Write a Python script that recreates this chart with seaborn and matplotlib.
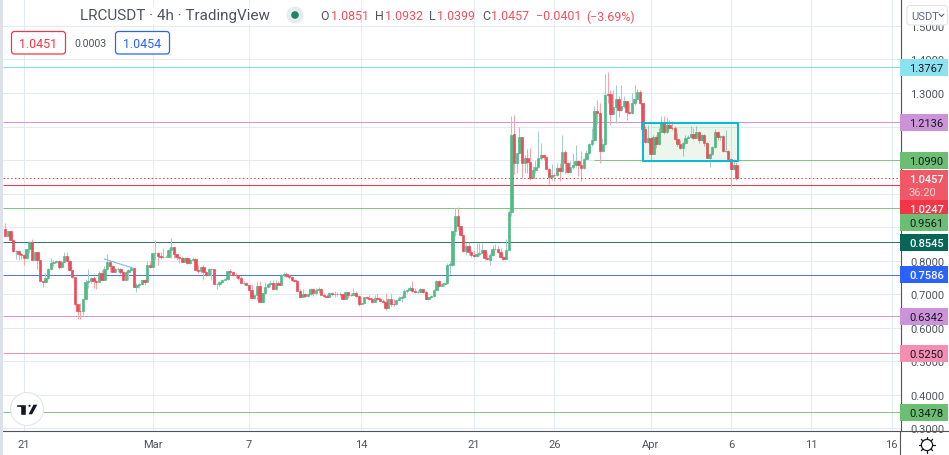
"""LRCUSDT 4h candlestick chart with horizontal levels, in the TradingView look."""

import matplotlib.pyplot as plt
import numpy as np
import pandas as pd
import seaborn as sns
from matplotlib.patches import Circle, FancyBboxPatch, Polygon, Rectangle

OPENS = [
    .893, .873, .887, .863, .828, .828, .820, .816, .807, .835,
    .855, .801, .825, .801, .738, .735, .747, .775, .793, .797,
    .798, .780, .795, .815, .799, .773, .750, .671, .651, .649,
    .687, .737, .739, .749, .738, .737, .763, .743, .775, .797,
    .785, .765, .775, .775, .765, .743, .766, .771, .779, .720,
    .728, .730, .742, .735, .787, .780, .823, .823, .815, .810,
    .811, .812, .832, .840, .820, .810, .807, .797, .808, .792,
    .803, .805, .773, .768, .781, .766, .758, .775, .776, .729,
    .730, .737, .743, .745, .768, .765, .758, .756, .748, .732,
    .733, .726, .712, .689, .697, .725, .678, .703, .721, .729,
    .733, .716, .733, .728, .757, .761, .753, .750, .741, .740,
    .711, .693, .700, .696, .701, .715, .703, .713, .716, .698,
    .695, .693, .704, .702, .702, .702, .700, .687, .706, .699,
    .698, .705, .695, .672, .675, .691, .688, .686, .678, .689,
    .687, .680, .677, .658, .687, .672, .670, .683, .689, .692,
    .711, .713, .719, .711, .706, .708, .715, .708, .685, .692,
    .695, .713, .739, .723, .731, .733, .788, .787, .888, .932,
    .902, .877, .828, .843, .826, .816, .813, .821, .823, .833,
    .808, .803, .817, .835, .836, .827, .811, .805, .831, .946,
    1.179, 1.092, 1.120, 1.169, 1.090, 1.107, 1.094, 1.048, 1.070, 1.080,
    1.106, 1.116, 1.109, 1.074, 1.050, 1.056, 1.055, 1.076, 1.067, 1.125,
    1.090, 1.064, 1.078, 1.084, 1.098, 1.084, 1.076, 1.104, 1.120, 1.147,
    1.159, 1.245, 1.241, 1.126, 1.149, 1.296, 1.296, 1.236, 1.259, 1.283,
    1.249, 1.261, 1.275, 1.243, 1.241, 1.269, 1.283, 1.304, 1.271, 1.193,
    1.155, 1.165, 1.119, 1.169, 1.149, 1.185, 1.211, 1.183, 1.206, 1.197,
    1.196, 1.163, 1.149, 1.137, 1.151, 1.167, 1.169, 1.179, 1.167, 1.185,
    1.159, 1.176, 1.151, 1.107, 1.118, 1.139, 1.183, 1.169, 1.173, 1.127,
    1.127, 1.103, 1.073, 1.0851,
]
CLOSES = [
    .873, .887, .861, .828, .828, .820, .816, .807, .835, .855,
    .801, .825, .801, .738, .735, .747, .775, .793, .797, .798,
    .780, .795, .815, .799, .773, .750, .671, .651, .649, .687,
    .737, .739, .749, .738, .737, .763, .743, .775, .797, .785,
    .765, .775, .775, .765, .743, .766, .771, .779, .720, .728,
    .730, .742, .735, .787, .780, .823, .823, .815, .810, .811,
    .812, .832, .840, .820, .810, .807, .797, .808, .792, .803,
    .805, .773, .768, .781, .766, .758, .775, .776, .729, .730,
    .737, .743, .745, .768, .765, .758, .756, .748, .732, .733,
    .726, .712, .689, .697, .725, .678, .703, .721, .729, .733,
    .716, .733, .728, .757, .761, .753, .750, .741, .740, .711,
    .693, .700, .696, .701, .715, .703, .713, .716, .698, .695,
    .693, .704, .702, .702, .702, .700, .687, .706, .699, .698,
    .705, .695, .672, .675, .691, .688, .686, .678, .689, .687,
    .680, .677, .658, .687, .672, .670, .683, .689, .692, .711,
    .713, .719, .711, .706, .708, .715, .708, .685, .692, .695,
    .713, .739, .723, .731, .733, .788, .790, .888, .932, .902,
    .877, .828, .843, .826, .816, .815, .821, .823, .833, .808,
    .805, .817, .835, .836, .827, .811, .805, .831, .946, 1.176,
    1.092, 1.120, 1.169, 1.090, 1.107, 1.094, 1.048, 1.070, 1.080, 1.106,
    1.116, 1.109, 1.074, 1.050, 1.056, 1.055, 1.076, 1.067, 1.125, 1.090,
    1.064, 1.078, 1.084, 1.098, 1.084, 1.076, 1.104, 1.120, 1.147, 1.159,
    1.245, 1.241, 1.126, 1.149, 1.295, 1.295, 1.236, 1.259, 1.283, 1.249,
    1.261, 1.275, 1.243, 1.241, 1.269, 1.283, 1.304, 1.271, 1.193, 1.155,
    1.165, 1.119, 1.169, 1.149, 1.185, 1.211, 1.183, 1.206, 1.197, 1.195,
    1.163, 1.149, 1.137, 1.151, 1.167, 1.169, 1.179, 1.167, 1.185, 1.159,
    1.176, 1.151, 1.107, 1.118, 1.139, 1.183, 1.169, 1.173, 1.127, 1.128,
    1.103, 1.073, 1.086, 1.0457,
]
HIGHS = [
    .913, .888, .887, .863, .831, .828, .823, .819, .835, .858,
    .865, .827, .825, .801, .740, .763, .778, .808, .801, .801,
    .801, .801, .825, .825, .801, .773, .750, .671, .673, .687,
    .745, .775, .751, .753, .743, .768, .773, .783, .820, .801,
    .788, .777, .780, .778, .768, .768, .775, .783, .779, .733,
    .733, .743, .745, .798, .798, .823, .862, .827, .827, .837,
    .817, .837, .867, .840, .820, .814, .813, .811, .811, .808,
    .811, .808, .788, .783, .788, .768, .778, .778, .776, .733,
    .738, .745, .747, .768, .775, .768, .763, .758, .755, .738,
    .735, .728, .731, .698, .738, .738, .703, .735, .733, .743,
    .743, .743, .738, .761, .765, .765, .758, .755, .743, .743,
    .715, .715, .703, .703, .717, .718, .718, .720, .718, .703,
    .701, .706, .708, .709, .708, .708, .700, .708, .708, .703,
    .718, .711, .698, .693, .693, .695, .698, .693, .698, .701,
    .691, .685, .703, .689, .703, .685, .684, .694, .698, .715,
    .715, .723, .738, .718, .713, .718, .715, .711, .693, .698,
    .715, .741, .743, .733, .737, .793, .798, .888, .957, .960,
    .904, .877, .853, .855, .833, .833, .853, .853, .853, .833,
    .823, .823, .848, .851, .843, .838, .813, .865, .952, 1.231,
    1.233, 1.122, 1.199, 1.169, 1.116, 1.133, 1.136, 1.082, 1.101, 1.186,
    1.151, 1.116, 1.113, 1.077, 1.087, 1.062, 1.090, 1.092, 1.176, 1.131,
    1.094, 1.097, 1.121, 1.146, 1.101, 1.126, 1.106, 1.131, 1.151, 1.196,
    1.261, 1.279, 1.271, 1.166, 1.358, 1.362, 1.310, 1.310, 1.325, 1.291,
    1.325, 1.291, 1.276, 1.271, 1.300, 1.325, 1.312, 1.308, 1.271, 1.201,
    1.206, 1.169, 1.176, 1.176, 1.196, 1.231, 1.231, 1.229, 1.221, 1.216,
    1.201, 1.181, 1.161, 1.153, 1.176, 1.176, 1.203, 1.196, 1.201, 1.187,
    1.179, 1.179, 1.153, 1.121, 1.141, 1.193, 1.186, 1.176, 1.175, 1.191,
    1.131, 1.103, 1.103, 1.0932,
]
LOWS = [
    .873, .873, .861, .826, .805, .803, .805, .786, .805, .823,
    .801, .801, .775, .738, .722, .733, .745, .773, .783, .793,
    .775, .778, .795, .799, .773, .748, .665, .625, .625, .638,
    .687, .718, .733, .718, .716, .737, .743, .743, .773, .765,
    .765, .765, .765, .761, .741, .743, .743, .771, .720, .708,
    .718, .728, .728, .735, .778, .778, .803, .788, .805, .807,
    .810, .812, .807, .807, .801, .793, .797, .795, .790, .790,
    .798, .773, .763, .763, .741, .753, .753, .743, .729, .715,
    .723, .733, .741, .741, .758, .753, .747, .743, .732, .728,
    .726, .712, .689, .685, .683, .678, .677, .701, .718, .721,
    .716, .713, .726, .728, .751, .751, .745, .739, .737, .711,
    .691, .691, .693, .693, .699, .695, .698, .703, .698, .693,
    .691, .691, .695, .693, .695, .695, .687, .685, .689, .696,
    .698, .693, .666, .672, .673, .687, .683, .675, .678, .683,
    .679, .675, .652, .658, .666, .666, .668, .682, .678, .688,
    .703, .711, .708, .703, .703, .706, .703, .683, .683, .690,
    .693, .713, .721, .723, .725, .731, .761, .785, .873, .890,
    .873, .825, .818, .818, .811, .811, .811, .813, .823, .803,
    .801, .786, .815, .833, .823, .808, .803, .805, .831, .932,
    1.057, 1.062, 1.117, 1.047, 1.062, 1.062, 1.040, 1.046, 1.062, 1.077,
    1.101, 1.101, 1.072, 1.030, 1.040, 1.037, 1.052, 1.037, 1.064, 1.062,
    1.062, 1.062, 1.072, 1.080, 1.052, 1.037, 1.072, 1.101, 1.117, 1.141,
    1.156, 1.207, 1.092, 1.123, 1.146, 1.271, 1.206, 1.236, 1.211, 1.229,
    1.246, 1.256, 1.221, 1.236, 1.236, 1.263, 1.281, 1.266, 1.186, 1.151,
    1.151, 1.099, 1.117, 1.136, 1.146, 1.183, 1.179, 1.181, 1.193, 1.191,
    1.161, 1.143, 1.133, 1.113, 1.149, 1.165, 1.166, 1.163, 1.165, 1.151,
    1.156, 1.143, 1.105, 1.080, 1.116, 1.136, 1.161, 1.161, 1.125, 1.125,
    1.101, 1.024, 1.070, 1.0399,
]

LEVELS = [1.3767, 1.2136, 1.0990, 1.0247, 0.9561, 0.8545, 0.7586, 0.6342, 0.5250, 0.3478]
LEVEL_COLORS = ["#80deea", "#ce93d8", "#81c784", "#f23645", "#81c784",
                "#2e7d62", "#4a78e6", "#ce93d8", "#f48fb1", "#81c784"]
BOX_COLORS = ["#8be3ef", "#cd93d8", "#6cbf72", "#f23645", "#6cbf72",
              "#056656", "#2962ff", "#cd93d8", "#f48fb1", "#6cbf72"]
BOX_TEXT = ["#131722", "#131722", "#131722", "white", "#131722",
            "white", "white", "#131722", "#131722", "#131722"]
BOX_TOPS = [60, 115, 153, 201, 215, 235, 267, 309, 346, 405]

Y_TICKS = [0.3, 0.4, 0.5, 0.6, 0.7, 0.8, 0.9, 1.0, 1.1, 1.2, 1.3, 1.4, 1.5]
# the 0.9 to 1.2 labels sit fully behind the level boxes in the reference
Y_LABELS = ["0.3000", "0.4000", "0.5000", "0.6000", "0.7000", "0.8000", "", "", "", "", "1.3000", "1.4000", "1.5000"]
DAY_BARS = [7, 55, 91, 133, 175, 205, 241, 271, 301, 331]
DAY_LABELS = ["21", "Mar", "7", "14", "21", "26", "Apr", "6", "11", "16"]

TREND_BARS = [37, 47.6]
TREND_PRICES = [0.805, 0.778]
RANGE_BARS = [238, 273.8]
RANGE_PRICES = [1.0965, 1.210]
LAST_PRICE = 1.0457

UP = "#53b987"
DOWN = "#eb4d5c"
GREY = "#50535e"
GRID = "#e2ebf2"

sns.set_theme(style="white")
plt.rcParams["font.family"] = ["Roboto", "DejaVu Sans"]

df = pd.DataFrame({"bar": np.arange(len(CLOSES)), "open": OPENS, "high": HIGHS, "low": LOWS, "close": CLOSES})
df["base"] = df[["open", "close"]].min(axis=1)
df["size"] = (df["close"] - df["open"]).abs()
df["up"] = df["close"] >= df["open"]

fig = plt.figure(figsize=(9.49, 4.56), dpi=100)
ax = fig.add_axes([3 / 949, 24 / 456, 897.5 / 949, 432 / 456])
ax.set_zorder(1)

ax.vlines(df.loc[df.up, "bar"], df.loc[df.up, "low"], df.loc[df.up, "high"], color="#a5cdd0", lw=0.75, zorder=3)
ax.vlines(df.loc[~df.up, "bar"], df.loc[~df.up, "low"], df.loc[~df.up, "high"], color="#f6a5ad", lw=0.75, zorder=3)

for rows, color in [(df[df.up], UP), (df[~df.up], DOWN)]:
    sns.barplot(data=rows, x="bar", y="size", bottom=rows["base"].to_numpy(), native_scale=True, errorbar=None,
                width=0.88, color=color, saturation=1, edgecolor=color, linewidth=0.5, ax=ax, zorder=4)

for price, color in zip(LEVELS, LEVEL_COLORS):
    start = 220 if price == 1.0990 else -1
    ax.hlines(price, start, 340, color=color, lw=0.72, zorder=2)
ax.axhline(LAST_PRICE, color="#f23645", lw=0.72, ls=(0, (1.4, 2.4)), zorder=5)

ax.plot(TREND_BARS, TREND_PRICES, color="#7ab8f5", lw=0.8, zorder=5)
ax.add_patch(Rectangle((RANGE_BARS[0], RANGE_PRICES[0]), RANGE_BARS[1] - RANGE_BARS[0], RANGE_PRICES[1] - RANGE_PRICES[0],
                       facecolor="#4caf50", alpha=0.1, edgecolor="none", zorder=5))
ax.add_patch(Rectangle((RANGE_BARS[0], RANGE_PRICES[0]), RANGE_BARS[1] - RANGE_BARS[0], RANGE_PRICES[1] - RANGE_PRICES[0],
                       facecolor="none", edgecolor="#00bcd4", lw=1.4, zorder=5))

ax.set_xlim(-0.84, 334.3)
ax.set_ylim(0.2920, 1.5804)
ax.set_xticks(DAY_BARS, DAY_LABELS)
ax.set_yticks(Y_TICKS, Y_LABELS)
ax.yaxis.tick_right()
ax.set_xlabel("")
ax.set_ylabel("")
ax.grid(True, color=GRID, lw=0.72, zorder=0)
ax.set_axisbelow(True)
ax.tick_params(axis="y", length=0, labelsize=8, labelcolor=GREY, pad=7)
ax.tick_params(axis="x", length=0, labelsize=8, labelcolor=GREY, pad=6)
for side in ["top", "left"]:
    ax.spines[side].set_visible(False)
for side in ["right", "bottom"]:
    ax.spines[side].set_color(GREY)
    ax.spines[side].set_linewidth(0.8)

# everything around the plot is laid out in image pixels on a transparent overlay
ov = fig.add_axes([0, 0, 1, 1], facecolor="none", zorder=5)
ov.set_xlim(0, 949)
ov.set_ylim(456, 0)
ov.axis("off")
ov.add_patch(Rectangle((0, 0), 3, 456, facecolor="#dde1ea", edgecolor="none"))
ov.add_patch(Rectangle((901, 0), 48, 1, facecolor="#6cbf72", edgecolor="none"))
ov.plot([900, 949], [432, 432], color=GREY, lw=0.8)
ov.plot([900.5, 900.5], [432, 456], color=GREY, lw=0.8)

for price, color, txt, top in zip(LEVELS, BOX_COLORS, BOX_TEXT, BOX_TOPS):
    ov.add_patch(Rectangle((900.5, top), 47.5, 16.8, facecolor=color, edgecolor="none", zorder=3))
    ov.text(926.5, top + 8.6, f"{price:.4f}", color=txt, fontsize=8, ha="center", va="center", zorder=4,
            fontweight="medium" if txt == "white" else "normal")
ov.add_patch(Rectangle((900.5, 171), 47.5, 30, facecolor="#f05767", edgecolor="none", zorder=3))
ov.text(926.5, 180, "1.0457", color="white", fontsize=8, ha="center", va="center", zorder=4, fontweight="medium")
ov.text(922, 193, "36:20", color="#fbd4d8", fontsize=8, ha="center", va="center", zorder=4)

ov.add_patch(FancyBboxPatch((907, 6.5), 40.5, 19.5, boxstyle="round,pad=0,rounding_size=3", facecolor="white",
                            edgecolor="#e0e3eb", lw=0.8, zorder=3))
ov.text(911, 16.5, "USDT", color="#5a6a8a", fontsize=8, va="center", zorder=4)
ov.plot([939, 941.5, 944], [15, 17.5, 15], color=GREY, lw=0.7, zorder=4)

ov.text(80, 16, "LRCUSDT · 4h · TradingView", color=GREY, fontsize=10.95, va="center",
        bbox=dict(facecolor="white", edgecolor="none", pad=1.5))
ov.add_patch(Circle((295, 16), 8.5, facecolor="#e4eced", edgecolor="none"))
ov.add_patch(Circle((295, 16), 3.8, facecolor="#22806b", edgecolor="none"))

RED_TEXT = "#f0515f"
for x, s, c in [(320, "O", GREY), (331, "1.0851", RED_TEXT), (375, "H", GREY), (385, "1.0932", RED_TEXT),
                (429, "L", GREY), (437, "1.0399", RED_TEXT), (482, "C", GREY), (491, "1.0457", RED_TEXT),
                (536, "\u22120.0401", RED_TEXT), (586, "(\u22123.69%)", RED_TEXT)]:
    ov.text(x, 17, s, color=c, fontsize=8.9, va="center")

for x0, x1, c, s in [(11.5, 65.5, "#f23645", "1.0451"), (115.5, 169.5, "#2962ff", "1.0454")]:
    ov.add_patch(FancyBboxPatch((x0, 32.5), x1 - x0, 22.5, boxstyle="round,pad=0,rounding_size=3", facecolor="white",
                                edgecolor=c, lw=0.9))
    ov.text((x0 + x1) / 2, 44.5, s, color=c, fontsize=8.9, ha="center", va="center")
ov.text(90, 44, "0.0003", color=GREY, fontsize=7.6, ha="center", va="center")

# logo badge and settings icon
ov.add_patch(Circle((27, 410), 16.5, facecolor="white", edgecolor="#e4e6ee", lw=0.8))
ov.add_patch(Polygon([(16, 405), (26, 405), (26, 416), (20, 416), (20, 408.5), (16, 408.5)], facecolor="#131722"))
ov.add_patch(Circle((29.5, 406.8), 1.8, facecolor="#131722"))
ov.add_patch(Polygon([(33, 405), (38.5, 405), (32.5, 416), (27.5, 416)], facecolor="#131722"))
ov.add_patch(Circle((927, 446), 5.6, facecolor="white", edgecolor="#131722", lw=0.9))
for a in np.deg2rad(np.arange(0, 360, 45)):
    ov.plot([927 + 5.6 * np.cos(a), 927 + 8 * np.cos(a)], [446 + 5.6 * np.sin(a), 446 + 8 * np.sin(a)],
            color="#131722", lw=0.9)

fig.savefig("out.png", dpi=100)
print("Saved figure to out.png")
